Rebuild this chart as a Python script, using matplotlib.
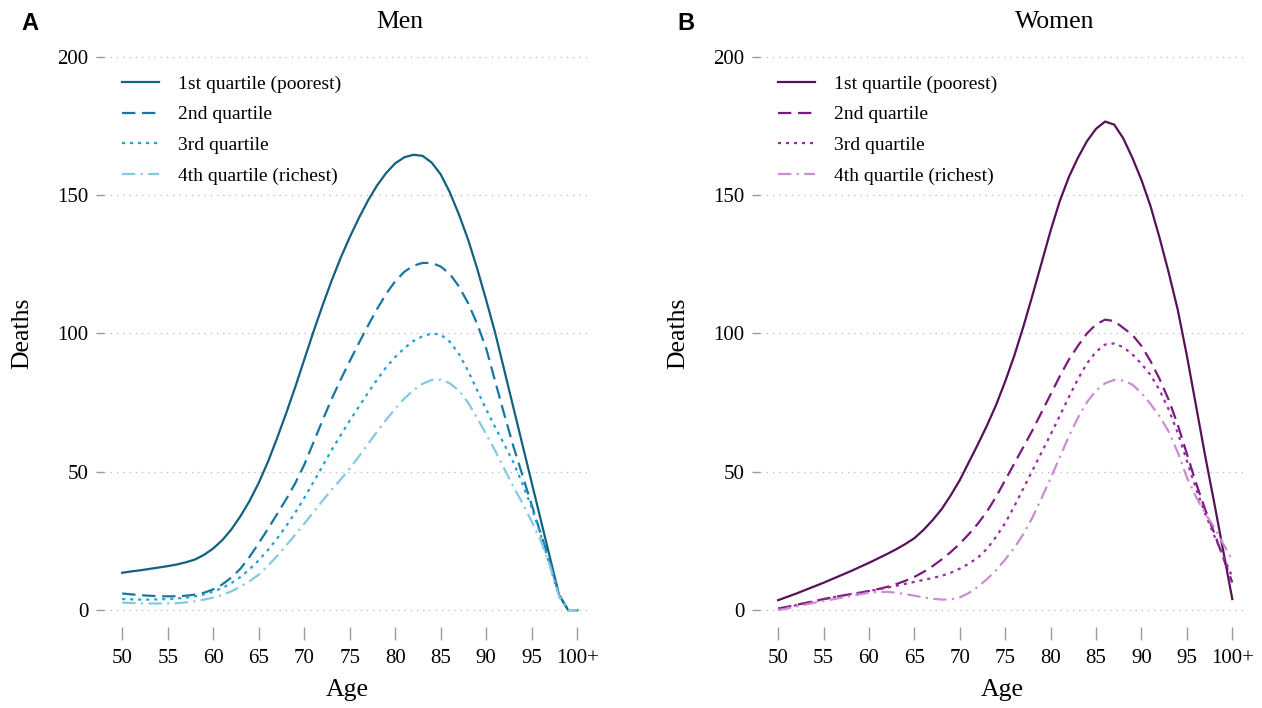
import numpy as np
import matplotlib
matplotlib.use("Agg")
import matplotlib.pyplot as plt

# ages 50 .. 100 (100 = "100+")
ages = list(range(50, 101))
xticks = [50, 55, 60, 65, 70, 75, 80, 85, 90, 95, 100]
xticklabels = ["50", "55", "60", "65", "70", "75", "80", "85", "90", "95", "100+"]
labels = ["1st quartile (poorest)", "2nd quartile", "3rd quartile", "4th quartile (richest)"]

men_q1 = [13.5, 14.0, 14.4, 14.9, 15.4, 15.9, 16.5, 17.3, 18.3, 20.0,
          22.3, 25.3, 29.2, 34.0, 39.5, 46.0, 53.5, 62.0, 71.0, 80.5,
          90.5, 100.5, 110.0, 119.0, 127.3, 134.8, 141.7, 148.0, 153.5, 158.0,
          161.5, 163.7, 164.6, 164.2, 161.8, 157.5, 151.0, 143.0, 134.0, 123.5,
          112.0, 100.0, 86.5, 73.0, 59.5, 46.0, 32.5, 19.0, 5.5, 0.0,
          0.0]
men_q2 = [6.0, 5.7, 5.4, 5.2, 5.0, 5.0, 5.0, 5.2, 5.6, 6.3,
          7.5, 9.3, 11.8, 15.0, 19.3, 24.2, 29.3, 34.6, 40.0, 45.8,
          52.5, 60.5, 68.5, 76.2, 83.3, 90.0, 96.5, 102.8, 108.8, 114.3,
          118.9, 122.3, 124.5, 125.5, 125.5, 124.2, 121.5, 117.0, 111.0, 103.5,
          94.5, 82.5, 70.5, 59.0, 48.5, 38.0, 27.5, 17.5, 5.5, 0.0,
          0.0]
men_q3 = [4.0, 3.9, 3.8, 3.8, 3.9, 4.0, 4.2, 4.5, 5.0, 5.7,
          6.7, 8.0, 9.8, 12.0, 14.8, 18.0, 21.7, 25.8, 30.3, 35.2,
          40.5, 46.2, 52.0, 57.8, 63.2, 68.5, 73.5, 78.5, 83.3, 87.8,
          91.5, 94.7, 97.3, 99.0, 100.0, 99.6, 97.0, 92.6, 86.5, 79.5,
          72.5, 66.0, 59.8, 53.3, 45.5, 37.0, 27.0, 16.0, 5.0, 0.0,
          0.0]
men_q4 = [2.7, 2.6, 2.5, 2.4, 2.4, 2.4, 2.5, 2.8, 3.2, 3.8,
          4.5, 5.5, 6.8, 8.5, 10.5, 12.8, 16.0, 19.5, 23.3, 27.2,
          31.2, 35.3, 39.5, 43.5, 47.2, 51.2, 55.5, 60.0, 64.5, 68.8,
          72.8, 76.5, 79.5, 81.8, 83.2, 83.3, 82.0, 79.3, 75.0, 69.5,
          63.5, 57.5, 51.0, 44.5, 38.5, 32.0, 25.0, 16.0, 5.0, 0.0,
          0.0]

women_q1 = [3.6, 4.8, 6.0, 7.3, 8.6, 9.9, 11.3, 12.7, 14.1, 15.6,
            17.1, 18.7, 20.3, 22.0, 23.9, 26.0, 29.0, 32.5, 36.5, 41.5,
            47.0, 53.5, 60.0, 66.8, 74.2, 82.7, 92.0, 102.5, 113.8, 125.5,
            137.2, 147.8, 156.5, 163.5, 169.5, 174.0, 176.6, 175.5, 170.5, 163.5,
            155.5, 146.0, 134.5, 122.0, 108.5, 92.0, 74.0, 56.0, 39.0, 21.5,
            4.0]
women_q2 = [0.6, 1.2, 1.9, 2.6, 3.3, 4.0, 4.6, 5.2, 5.8, 6.3,
            6.9, 7.6, 8.4, 9.4, 10.6, 12.0, 13.8, 15.9, 18.3, 21.0,
            24.0, 27.5, 31.3, 35.7, 41.0, 47.0, 53.0, 59.0, 65.0, 71.5,
            78.0, 84.5, 90.5, 95.5, 100.0, 103.3, 105.0, 104.5, 102.0, 99.5,
            95.5, 90.0, 83.5, 76.0, 67.0, 56.5, 46.0, 36.5, 28.0, 19.0,
            10.0]
women_q3 = [0.5, 1.1, 1.8, 2.5, 3.2, 3.9, 4.6, 5.2, 5.8, 6.3,
            6.9, 7.5, 8.1, 8.8, 9.5, 10.2, 10.9, 11.6, 12.4, 13.5,
            15.0, 16.8, 19.0, 22.2, 26.5, 31.5, 37.5, 44.0, 50.5, 57.0,
            63.5, 70.2, 77.0, 83.5, 89.2, 93.4, 96.0, 96.4, 95.0, 92.5,
            89.0, 85.0, 79.5, 72.5, 64.0, 54.0, 44.0, 35.0, 27.0, 19.5,
            12.0]
women_q4 = [0.0, 0.6, 1.3, 2.0, 2.7, 3.3, 3.9, 4.5, 5.1, 5.7,
            6.3, 6.6, 6.6, 6.3, 5.8, 5.2, 4.6, 4.1, 3.8, 3.9,
            4.6, 6.2, 8.5, 11.2, 14.5, 18.3, 22.5, 27.5, 33.5, 40.5,
            47.7, 55.2, 62.8, 69.5, 75.2, 79.4, 82.0, 83.2, 83.0, 81.5,
            78.5, 74.5, 70.0, 64.5, 57.0, 48.0, 41.0, 35.0, 30.0, 24.0,
            18.0]

men_colors = ["#12617f", "#1676a4", "#24a0d2", "#84c9e3"]
women_colors = ["#561158", "#791b7e", "#9d2aa5", "#cc8cd4"]
dashes = [None, (6, 3), (1.4, 2.2), (6, 2.4, 1, 2.4)]

plt.rcParams["font.family"] = ["Liberation Serif", "DejaVu Serif"]

fig = plt.figure(figsize=(12.62, 7.08), dpi=100)
W, H = 1262, 708


def px_axes(left, right, top, bottom):
    return [left / W, 1 - bottom / H, (right - left) / W, (bottom - top) / H]


panels = [
    (px_axes(104, 590, 43, 627), [men_q1, men_q2, men_q3, men_q4], men_colors, "Men", "A", 30, 400, 347),
    (px_axes(760, 1245, 43, 627), [women_q1, women_q2, women_q3, women_q4], women_colors, "Women", "B", 686, 1055, 1002),
]

for rect, series, colors, title, letter, lx, tx, ax_c in panels:
    ax = fig.add_axes(rect)
    for vals, col, d, lab in zip(series, colors, dashes, labels):
        line, = ax.plot(ages, vals, color=col, lw=1.6, label=lab,
                        solid_joinstyle="round", dash_joinstyle="round")
        if d is not None:
            line.set_dashes(d)

    ax.set_xlim(48.0, 101.4)
    ax.set_ylim(-6.1, 205)
    ax.set_yticks([0, 50, 100, 150, 200])
    ax.set_xticks(xticks)
    ax.set_xticklabels(xticklabels)
    for s in ax.spines.values():
        s.set_visible(False)
    ax.yaxis.grid(True, linestyle=(0, (1, 4)), color="#b8b8b8", lw=0.9)
    ax.tick_params(axis="y", direction="out", length=6, width=1, color="#9a9a9a",
                   labelsize=15, pad=5)
    ax.tick_params(axis="x", direction="out", length=9.5, width=1, color="#9a9a9a",
                   labelsize=15, pad=6)

    ax.legend(loc="upper left", bbox_to_anchor=(0.037, 0.945), frameon=False,
              fontsize=14, handlelength=1.9, handletextpad=1.0, labelspacing=0.67,
              borderpad=0, borderaxespad=0)

    # labels and titles in pixel positions
    fig.text(tx / W, 1 - 22 / H, title, ha="center", va="center", fontsize=18.5)
    fig.text(lx / W, 1 - 24 / H, letter, ha="center", va="center", fontsize=17,
             fontweight="bold", family=["Liberation Sans", "DejaVu Sans"])
    fig.text((lx - 8) / W, 1 - 333 / H, "Deaths", rotation=90, ha="center",
             va="center", fontsize=18.5)
    fig.text(ax_c / W, 1 - 690 / H, "Age", ha="center", va="center", fontsize=18.5)

fig.savefig("out.png", dpi=100)
